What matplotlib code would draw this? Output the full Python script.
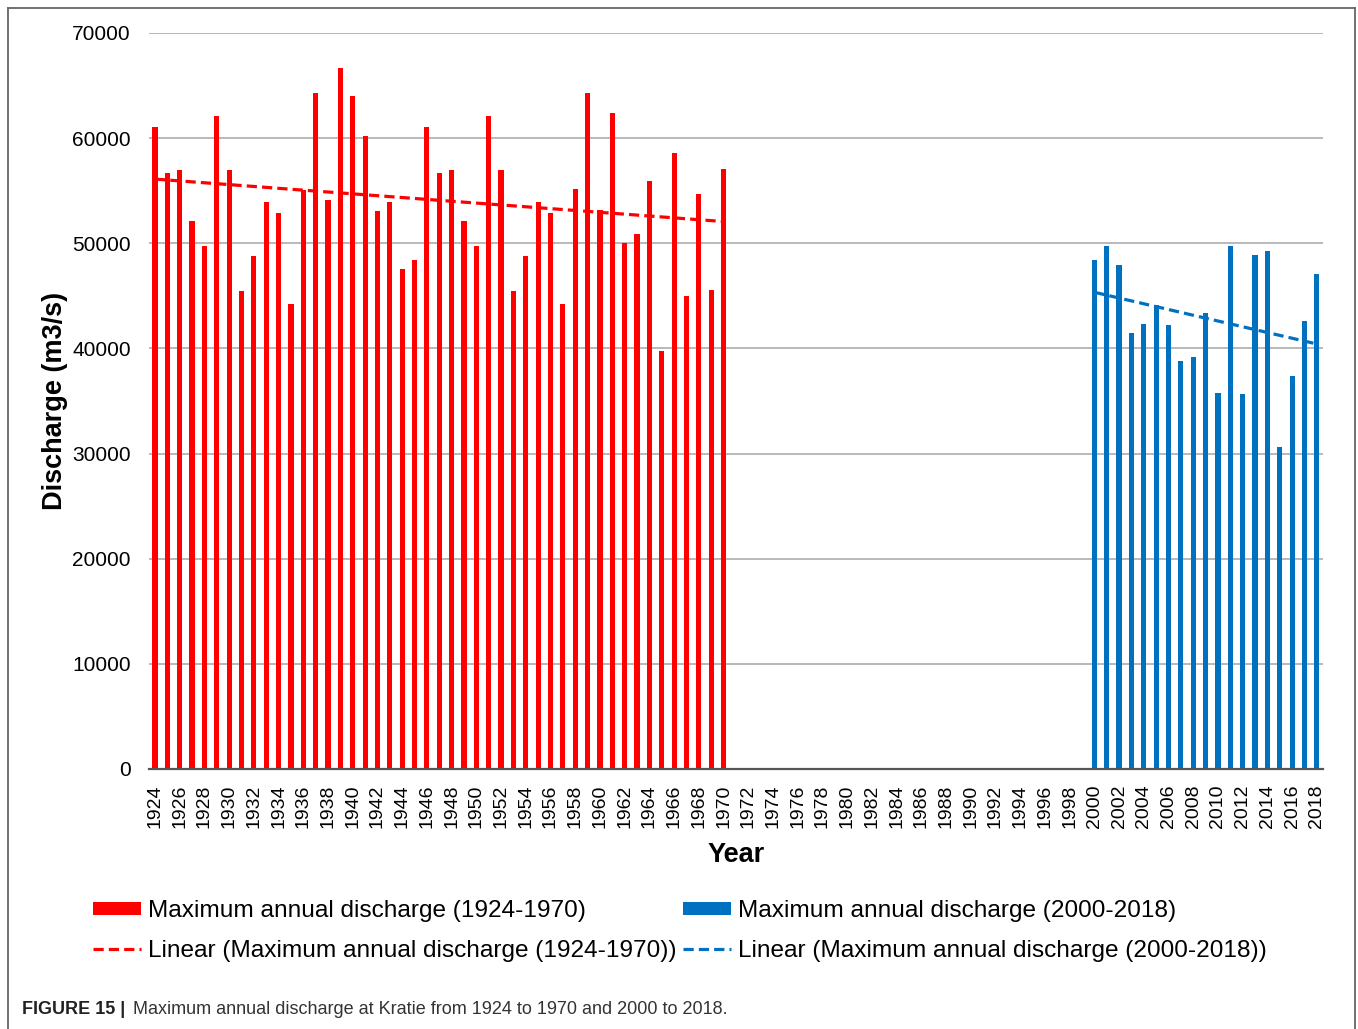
import numpy as np
import matplotlib
matplotlib.use("Agg")
import matplotlib.pyplot as plt
from matplotlib.lines import Line2D

plt.rcParams['font.family'] = ['Liberation Sans', 'DejaVu Sans']

years_early = list(range(1924, 1971))
discharge_early = [61100, 56700, 57000, 52100, 49750, 62100, 57000, 45500, 48800, 53900,
                   52900, 44200, 55100, 64300, 54100, 66700, 64000, 60250, 53100, 53950,
                   47550, 48450, 61100, 56700, 57000, 52100, 49750, 62100, 57000, 45500,
                   48800, 53900, 52900, 44200, 55150, 64300, 53150, 62400, 50050, 50850,
                   55950, 39800, 58550, 44950, 54650, 45600, 57100]
years_late = list(range(2000, 2019))
discharge_late = [48450, 49750, 47950, 41450, 42300, 44150, 42250, 38850, 39150, 43400,
                  35750, 49700, 35700, 48900, 49300, 30650, 37350, 42650, 47050]

all_years = list(range(1924, 2019))
tick_labels = [str(y) for y in all_years[::2]]
y_ticks = [0, 10000, 20000, 30000, 40000, 50000, 60000, 70000]

RED = '#FF0000'
BLUE = '#0070C0'

W, H = 1358, 1029
fig = plt.figure(figsize=(W / 100, H / 100), dpi=100)
ax = fig.add_axes([148.8 / W, 1 - 769 / H, (1323 - 148.8) / W, (769 - 33) / H])

b1 = ax.bar(years_early, discharge_early, width=0.42, color=RED, zorder=3,
            label='Maximum annual discharge (1924-1970)')
b2 = ax.bar(years_late, discharge_late, width=0.42, color=BLUE, zorder=3,
            label='Maximum annual discharge (2000-2018)')

ye = np.array(years_early, dtype=float)
p1 = np.polyfit(ye, discharge_early, 1)
l1, = ax.plot([ye[0], ye[-1]], np.polyval(p1, [ye[0], ye[-1]]), color=RED, lw=2.3,
              linestyle=(0, (3.2, 1.6)), zorder=4,
              label='Linear (Maximum annual discharge (1924-1970))')
yl = np.array(years_late, dtype=float)
p2 = np.polyfit(yl, discharge_late, 1)
l2, = ax.plot([yl[0], yl[-1]], np.polyval(p2, [yl[0], yl[-1]]), color=BLUE, lw=2.3,
              linestyle=(0, (3.2, 1.6)), zorder=4,
              label='Linear (Maximum annual discharge (2000-2018))')

ax.set_xlim(1923.5, 2018.5)
ax.set_ylim(0, 70000)
ax.set_yticks(y_ticks)
ax.set_yticklabels([str(v) for v in y_ticks])
ax.set_xticks(all_years[::2])
ax.set_xticklabels(tick_labels, rotation=90)
ax.tick_params(axis='y', length=0, pad=13, labelsize=15)
ax.tick_params(axis='x', length=0, pad=11, labelsize=14)
ax.yaxis.grid(True, color='#b3b3b3', lw=1.3, zorder=0)
ax.set_axisbelow(True)
for s in ['top', 'right', 'left']:
    ax.spines[s].set_visible(False)
ax.spines['bottom'].set_color('#555555')
ax.spines['bottom'].set_linewidth(1.6)
ax.spines['bottom'].set_zorder(5)

ax.set_xlabel('Year', fontsize=19.5, fontweight='bold', labelpad=10)
ax.set_ylabel('Discharge (m3/s)', fontsize=19.5, fontweight='bold', labelpad=3)

leg = fig.legend(handles=[b1, l1, b2, l2], ncol=2, loc='center',
                 bbox_to_anchor=(680 / W, 1 - 931 / H), frameon=False,
                 fontsize=17.6, handlelength=1.97, handletextpad=0.29,
                 columnspacing=0.25, labelspacing=0.72, handleheight=0.5,
                 borderpad=0)

# caption
fig.text(22 / W, 1 - 1009 / H, 'FIGURE 15 |', fontsize=13, fontweight='bold',
         color='#222222', va='center', ha='left')
fig.text(133 / W, 1 - 1009 / H,
         'Maximum annual discharge at Kratie from 1924 to 1970 and 2000 to 2018.',
         fontsize=13, color='#333333', va='center', ha='left')

# outer frame
frame_col = '#666666'
fig.add_artist(Line2D([8 / W, 8 / W], [1 - 8 / H, -0.05], transform=fig.transFigure,
                      color=frame_col, lw=1.3))
fig.add_artist(Line2D([8 / W, 1355 / W], [1 - 8 / H, 1 - 8 / H], transform=fig.transFigure,
                      color=frame_col, lw=1.3))
fig.add_artist(Line2D([1355 / W, 1355 / W], [1 - 8 / H, -0.05], transform=fig.transFigure,
                      color=frame_col, lw=1.3))

fig.savefig('out.png', dpi=100)
